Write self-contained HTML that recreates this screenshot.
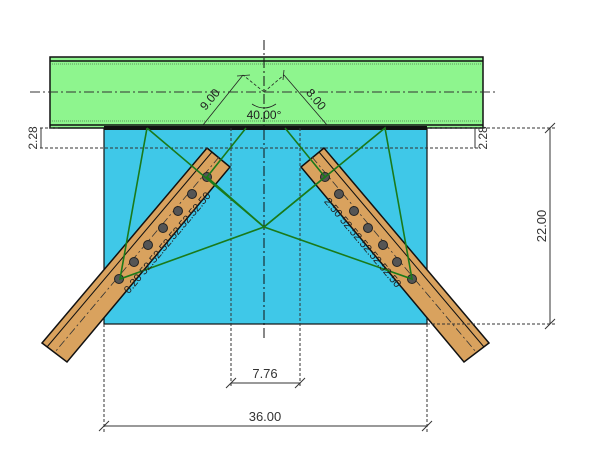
<!DOCTYPE html>
<html><head><style>html,body{margin:0;padding:0;background:#fff;width:602px;height:475px;overflow:hidden}</style></head>
<body>
<svg width="602" height="475" viewBox="0 0 602 475" xmlns="http://www.w3.org/2000/svg" font-family="Liberation Sans, sans-serif">
<!-- plate -->
<rect x="104" y="128" width="323" height="196" fill="#3fc8e8" stroke="#111" stroke-width="1.2"/>
<!-- beam -->
<rect x="50" y="57" width="433" height="71" fill="#8ef58e" stroke="#111" stroke-width="1.5"/>
<line x1="50" y1="61" x2="483" y2="61" stroke="#111" stroke-width="1.5"/>
<line x1="50" y1="64" x2="483" y2="64" stroke="#333" stroke-width="0.6" stroke-dasharray="1,1"/>
<line x1="50" y1="121" x2="483" y2="121" stroke="#333" stroke-width="0.6" stroke-dasharray="1,1"/>
<line x1="50" y1="125" x2="483" y2="125" stroke="#111" stroke-width="1.5"/>
<rect x="104" y="126" width="323" height="4" fill="#111"/>
<!-- centerlines -->
<line x1="30" y1="92" x2="497" y2="92" stroke="#333" stroke-width="1" stroke-dasharray="10,3,2,3"/>
<line x1="264" y1="40" x2="264" y2="340" stroke="#111" stroke-width="1" stroke-dasharray="10,3,2,3"/>
<!-- braces -->
<polygon points="207,148 230,167 67,362 42,343" fill="#d9a25e" stroke="#111" stroke-width="1.5"/>
<line x1="212" y1="152" x2="47" y2="347" stroke="#111" stroke-width="1"/>
<line x1="219" y1="157" x2="55" y2="352" stroke="#333" stroke-width="0.8" stroke-dasharray="8,3,2,3"/>
<polygon points="324,148 301,167 464,362 489,343" fill="#d9a25e" stroke="#111" stroke-width="1.5"/>
<line x1="319" y1="152" x2="484" y2="347" stroke="#111" stroke-width="1"/>
<line x1="312" y1="157" x2="476" y2="352" stroke="#333" stroke-width="0.8" stroke-dasharray="8,3,2,3"/>
<!-- dashed vertical extension lines -->
<g stroke="#333" stroke-width="1" stroke-dasharray="3,2" fill="none">
<line x1="104" y1="324" x2="104" y2="432"/>
<line x1="427" y1="324" x2="427" y2="432"/>
<line x1="231" y1="128" x2="231" y2="388"/>
<line x1="300" y1="128" x2="300" y2="388"/>
<line x1="427" y1="128" x2="555" y2="128"/>
<line x1="427" y1="324" x2="555" y2="324"/>
<line x1="40" y1="148" x2="480" y2="148"/>
<line x1="40" y1="128" x2="60" y2="128"/>
</g>
<!-- bolts -->
<g fill="#555" stroke="#222" stroke-width="1">
<circle cx="119" cy="279" r="4.5"/><circle cx="134" cy="262" r="4.5"/><circle cx="148" cy="245" r="4.5"/><circle cx="163" cy="228" r="4.5"/><circle cx="178" cy="211" r="4.5"/><circle cx="192" cy="194" r="4.5"/><circle cx="207" cy="177" r="4.5"/>
<circle cx="325" cy="177" r="4.5"/><circle cx="339" cy="194" r="4.5"/><circle cx="354" cy="211" r="4.5"/><circle cx="368" cy="228" r="4.5"/><circle cx="383" cy="245" r="4.5"/><circle cx="397" cy="262" r="4.5"/><circle cx="412" cy="279" r="4.5"/>
</g>
<!-- green lines -->
<g stroke="#1a7a1a" stroke-width="1.6" fill="none">
<polyline points="147,128 120,279 264,227 412,279 385,128 264,227 147,128"/>
<polyline points="246,128 207,177 264,227 325,177 285,128"/>
</g>
<!-- angle dims in beam -->
<g stroke="#222" stroke-width="0.8" fill="none">
<line x1="264" y1="92" x2="243" y2="75" stroke-dasharray="3,2"/>
<line x1="264" y1="92" x2="284" y2="75" stroke-dasharray="3,2"/>
<line x1="243" y1="75" x2="203" y2="125"/>
<line x1="284" y1="75" x2="327" y2="125"/>
<line x1="237" y1="76" x2="250" y2="75"/>
<line x1="284" y1="70" x2="283" y2="80"/>
<path d="M252,104 Q264,112 276,104"/>
</g>
<text x="264" y="119" font-size="12" text-anchor="middle" fill="#222">40.00°</text>
<text transform="translate(213,102) rotate(-50)" font-size="12" text-anchor="middle" fill="#222">9.00</text>
<text transform="translate(313,102) rotate(50)" font-size="12" text-anchor="middle" fill="#222">8.00</text>
<!-- bolt spacing labels -->
<text transform="translate(170,245) rotate(-50)" font-size="11" text-anchor="middle" fill="#222">0.20 52.52.52.52.52.52.50</text>
<text transform="translate(360,245) rotate(50)" font-size="11" text-anchor="middle" fill="#222">2.50 52.52.52.52.52.50</text>
<!-- 2.28 dims -->
<g stroke="#333" stroke-width="1" fill="none">
<line x1="41" y1="128" x2="41" y2="148"/>
<line x1="475" y1="128" x2="475" y2="148"/>
<line x1="550" y1="128" x2="550" y2="324"/>
<line x1="231" y1="383" x2="300" y2="383"/>
<line x1="104" y1="426" x2="427" y2="426"/>
<line x1="545" y1="133" x2="555" y2="123"/><line x1="545" y1="329" x2="555" y2="319"/>
<line x1="226" y1="388" x2="236" y2="378"/><line x1="295" y1="388" x2="305" y2="378"/>
<line x1="99" y1="431" x2="109" y2="421"/><line x1="422" y1="431" x2="432" y2="421"/>
</g>
<text transform="translate(37,138) rotate(-90)" font-size="12" text-anchor="middle" fill="#333">2.28</text>
<text transform="translate(487,138) rotate(-90)" font-size="12" text-anchor="middle" fill="#333">2.28</text>
<text transform="translate(546,226) rotate(-90)" font-size="13" text-anchor="middle" fill="#333">22.00</text>
<text x="265" y="378" font-size="13" text-anchor="middle" fill="#333">7.76</text>
<text x="265" y="421" font-size="13" text-anchor="middle" fill="#333">36.00</text>
</svg>
</body></html>
